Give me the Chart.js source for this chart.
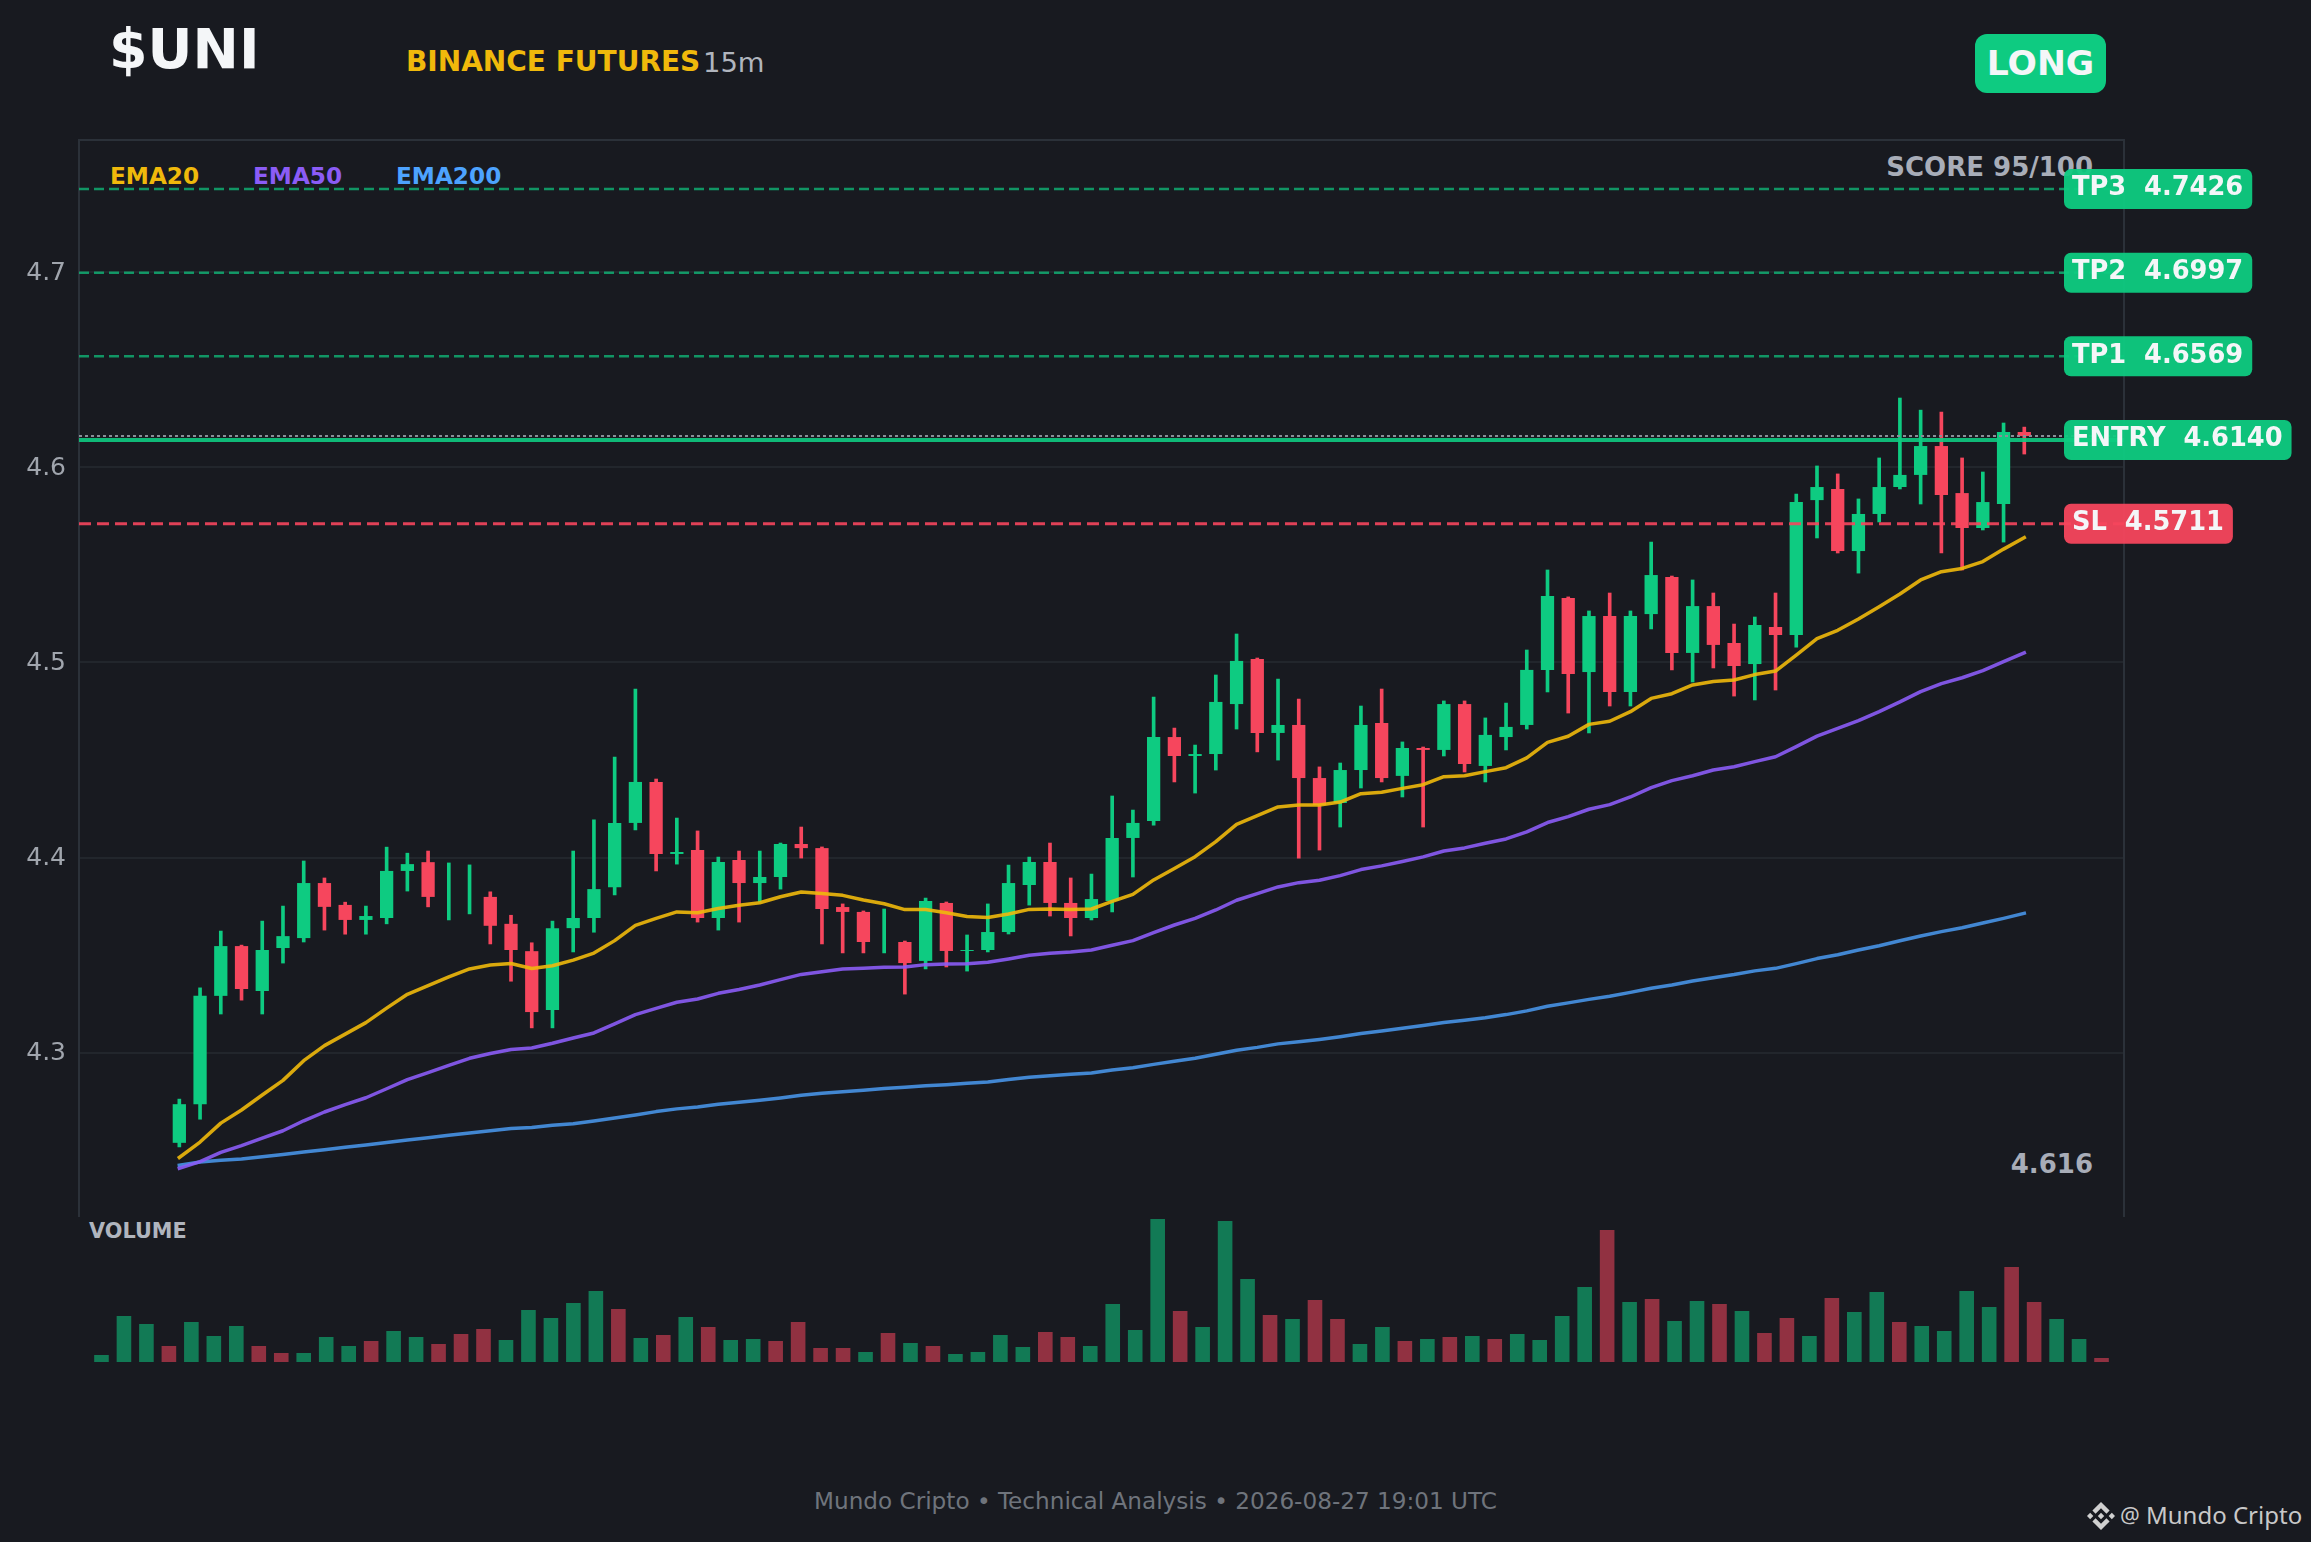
<!DOCTYPE html>
<html>
<head>
<meta charset="utf-8">
<title>$UNI</title>
<script src="https://cdn.jsdelivr.net/npm/chart.js@4"></script>
<style>
  html, body { margin: 0; padding: 0; background: #181A20; }
  body { position: relative; width: 2311px; height: 1542px; overflow: hidden; font-family: "DejaVu Sans", sans-serif; }
  canvas { position: absolute; left: 0; }
  #priceChart { top: 0; }
  #volumeChart { top: 1217px; }
  .txt { position: absolute; line-height: 1; white-space: nowrap; }
  #symbol { left: 109px; top: 22px; font-size: 55.4px; font-weight: bold; color: #F4F6F8; }
  #exchange { left: 406px; top: 48.4px; font-size: 28px; font-weight: bold; color: #F0B90B; }
  #interval { left: 703px; top: 48.6px; font-size: 27.4px; color: #B0B5BE; }
  #side { left: 1975px; top: 34px; width: 131px; height: 59px; line-height: 58px; border-radius: 12px; background: #0ECB81; color: #F4F6F8; font-size: 34.6px; font-weight: bold; text-align: center; }
  #score { right: 218px; top: 154px; font-size: 26px; font-weight: bold; color: #A8ADB8; }
  #lastPrice { right: 218px; top: 1151px; font-size: 26px; font-weight: bold; color: #A8ADB8; }
  .ema { top: 164px; font-size: 23.2px; font-weight: bold; }
  #volLabel { left: 89px; top: 1221px; font-size: 20.8px; font-weight: bold; color: #B0B5BE; }
  #footer { left: 0; width: 2311px; top: 1489.5px; text-align: center; font-size: 23.15px; color: #6F747C; }
  #brand { left: 2087px; top: 1502px; width: 28px; height: 28px; }
  #at { left: 2120px; top: 1503px; font-family: "Noto Sans"; font-size: 22px; color: #C8C8C8; }
  #handle { left: 2146px; top: 1502.7px; font-family: "Noto Sans"; font-size: 24px; color: #C8C8C8; }
</style>
</head>
<body>
<div class="txt" id="symbol">$UNI</div>
<div class="txt" id="exchange">BINANCE FUTURES</div>
<div class="txt" id="interval">15m</div>
<div class="txt" id="side">LONG</div>
<div class="txt" id="score">SCORE 95/100</div>
<div class="txt ema" style="left:110px;color:#F0B90B">EMA20</div>
<div class="txt ema" style="left:253px;color:#8B5CF6">EMA50</div>
<div class="txt ema" style="left:396px;color:#4DA3FF">EMA200</div>
<div class="txt" id="lastPrice"></div>
<div class="txt" id="volLabel">VOLUME</div>
<div class="txt" id="footer">Mundo Cripto • Technical Analysis • 2026-08-27 19:01 UTC</div>
<svg class="txt" id="brand" viewBox="0 0 126.61 126.61" fill="#D0D0D0">
  <path d="M38.73 53.2l24.59-24.58 24.6 24.6 14.3-14.31L63.32 0 24.43 38.9z"/>
  <path d="M0 63.31l14.3-14.31 14.31 14.31-14.31 14.3z"/>
  <path d="M38.73 73.41l24.59 24.59 24.6-24.6 14.31 14.29-.01.01-38.9 38.91-38.9-38.88-.02-.02z"/>
  <path d="M98 63.31l14.3-14.31 14.31 14.31-14.31 14.3z"/>
  <path d="M77.83 63.3L63.32 48.78 52.59 59.51l-1.24 1.23-2.54 2.54 14.51 14.5 14.51-14.47z"/>
</svg>
<div class="txt" id="at">@</div>
<div class="txt" id="handle">Mundo Cripto</div>
<canvas id="priceChart" width="2311" height="1542"></canvas>
<canvas id="volumeChart" width="2311" height="160"></canvas>
<script>
// 캔들 데이터
const opens = [
  4.2539,4.2737,4.3292,4.3547,4.3317,4.3537,4.3588,4.3870,4.3758,4.3681,
  4.3691,4.3932,4.3977,4.385,4.385,4.3799,4.3661,4.3521,4.3219,4.3639,
  4.3691,4.3849,4.4178,4.4388,4.4019,4.4039,4.3691,4.3988,4.3870,4.3901,
  4.4070,4.4049,4.3747,4.3722,4.36,4.3568,4.3471,4.3768,4.3522,4.3527,
  4.3619,4.3860,4.3978,4.3768,4.3691,4.3778,4.4101,4.4188,4.4618,4.4521,
  4.4531,4.4787,4.5018,4.4639,4.4680,4.4408,4.4280,4.4449,4.4690,4.4419,
  4.4562,4.4552,4.4787,4.4470,4.4618,4.4680,4.4962,4.5330,4.4951,4.5238,
  4.4849,4.5248,4.5438,4.5049,4.5289,4.5100,4.4992,4.5182,4.5141,4.5832,
  4.5889,4.5571,4.5761,4.5899,4.5961,4.6109,4.5868,4.5689,4.5812,4.6181
];
const highs = [
  4.2763,4.3333,4.3624,4.3552,4.3675,4.3752,4.3983,4.3896,4.3772,4.3752,
  4.4054,4.4023,4.4034,4.3973,4.3963,4.3825,4.3705,4.3564,4.3675,4.4034,
  4.4194,4.4516,4.4864,4.4403,4.4203,4.4137,4.4003,4.4034,4.4034,4.4075,
  4.4157,4.4055,4.3763,4.3727,4.3737,4.3573,4.3793,4.3773,4.3604,4.3763,
  4.3962,4.4003,4.4075,4.3896,4.3916,4.4316,4.4244,4.4823,4.4664,4.4577,
  4.4936,4.5146,4.5023,4.4915,4.4813,4.4465,4.4485,4.4777,4.4864,4.4593,
  4.4567,4.4803,4.4803,4.4716,4.4792,4.5064,4.5474,4.5336,4.5264,4.5356,
  4.5264,4.5617,4.5443,4.5423,4.5356,4.5197,4.5233,4.5356,4.5863,4.6007,
  4.5966,4.5838,4.6048,4.6355,4.6293,4.6283,4.6048,4.5976,4.6227,4.6206
];
const lows = [
  4.2518,4.2660,4.3199,4.3270,4.3199,4.3460,4.3568,4.3629,4.3608,4.3608,
  4.3661,4.3829,4.3748,4.3681,4.3712,4.3558,4.3367,4.3128,4.3128,4.3517,
  4.3618,4.3809,4.4142,4.3932,4.3967,4.3670,4.3629,4.3670,4.3773,4.3839,
  4.3998,4.3558,4.3512,4.3512,4.3512,4.3301,4.3430,4.3440,4.3419,4.3517,
  4.3609,4.3757,4.3701,4.3599,4.3681,4.3722,4.3901,4.4167,4.4388,4.4331,
  4.4449,4.4659,4.4542,4.4500,4.3998,4.4039,4.4157,4.4357,4.4388,4.4311,
  4.4157,4.4521,4.4439,4.4388,4.4552,4.4659,4.4849,4.4741,4.4639,4.4777,
  4.4777,4.5172,4.4962,4.4900,4.4972,4.4828,4.4808,4.4859,4.5079,4.5638,
  4.5561,4.5458,4.5720,4.5889,4.5812,4.5561,4.5474,4.5679,4.5617,4.6068
];
const closes = [
  4.2737,4.3292,4.3547,4.3327,4.3527,4.3598,4.3870,4.3748,4.3681,4.3701,
  4.3932,4.3967,4.3799,4.385,4.385,4.3651,4.3527,4.3209,4.3639,4.3691,
  4.3839,4.4178,4.4388,4.4019,4.4029,4.3691,4.3978,4.3870,4.3901,4.4070,
  4.4049,4.3737,4.3722,4.3568,4.36,4.3460,4.3778,4.3522,4.3527,4.3619,
  4.3870,4.3978,4.3768,4.3691,4.3788,4.4101,4.4178,4.4618,4.4521,4.4531,
  4.4798,4.5008,4.4639,4.4680,4.4408,4.4270,4.4449,4.4680,4.4408,4.4562,
  4.4552,4.4787,4.4480,4.4629,4.4670,4.4962,4.5341,4.4941,4.5238,4.4849,
  4.5238,4.5448,4.5049,4.5289,4.5090,4.4982,4.5192,4.5141,4.5822,4.5899,
  4.5571,4.5761,4.5899,4.5961,4.6109,4.5858,4.5689,4.5822,4.6181,4.6160
];
const volumes = [
  21,138,114,48,120,78,108,48,27,27,
  75,48,63,93,75,54,84,99,66,156,
  132,177,213,159,72,81,135,105,66,69,
  63,120,42,42,30,87,57,48,24,30,
  81,45,90,75,48,174,96,429,153,105,
  423,249,141,129,186,129,54,105,63,69,
  75,78,69,84,66,138,225,396,180,189,
  123,183,174,153,87,132,78,192,150,210,
  120,108,93,213,165,285,180,129,69,12
];

// EMA
const ema20 = [
  4.2464,4.2543,4.2640,4.2707,4.2784,4.2859,4.2960,4.3037,4.3096,4.3155,
  4.3229,4.3300,4.3345,4.3389,4.3430,4.3450,4.3458,4.3432,4.3446,4.3475,
  4.3511,4.3575,4.3653,4.3689,4.3722,4.3718,4.3740,4.3756,4.3769,4.3800,
  4.3824,4.3816,4.3807,4.3783,4.3764,4.3734,4.3735,4.3718,4.3699,4.3693,
  4.3711,4.3735,4.3737,4.3734,4.3737,4.3776,4.3812,4.3886,4.3945,4.4005,
  4.4082,4.4171,4.4215,4.4260,4.4270,4.4270,4.4285,4.4328,4.4335,4.4355,
  4.4374,4.4415,4.4420,4.4441,4.4461,4.4511,4.4591,4.4622,4.4683,4.4699,
  4.4748,4.4816,4.4840,4.4885,4.4903,4.4910,4.4938,4.4956,4.5038,4.5122,
  4.5165,4.5223,4.5286,4.5351,4.5423,4.5465,4.5482,4.5517,4.5581,4.5640
];
const ema50 = [
  4.2409,4.2443,4.2490,4.2525,4.2563,4.2601,4.2652,4.2697,4.2735,4.2770,
  4.2816,4.2863,4.2899,4.2936,4.2972,4.2997,4.3017,4.3025,4.3049,4.3076,
  4.3102,4.3148,4.3196,4.3228,4.3259,4.3276,4.3305,4.3325,4.3348,4.3375,
  4.3402,4.3416,4.3430,4.3433,4.3438,4.3440,4.3452,4.3455,4.3457,4.3464,
  4.3481,4.3500,4.3510,4.3517,4.3527,4.3551,4.3575,4.3616,4.3655,4.3689,
  4.3732,4.3782,4.3816,4.3850,4.3872,4.3884,4.3908,4.3939,4.3958,4.3980,
  4.4004,4.4034,4.4050,4.4074,4.4096,4.4132,4.4180,4.4210,4.4248,4.4272,
  4.4311,4.4359,4.4395,4.4420,4.4449,4.4466,4.4492,4.4517,4.4569,4.4623,
  4.4662,4.4702,4.4748,4.4798,4.4851,4.4892,4.4922,4.4958,4.5004,4.5050
];
const ema200 = [
  4.2424,4.2441,4.2450,4.2456,4.2468,4.2479,4.2492,4.2504,4.2516,4.2528,
  4.2541,4.2553,4.2565,4.2578,4.2589,4.2601,4.2612,4.2618,4.2629,4.2637,
  4.2651,4.2666,4.2682,4.2699,4.2713,4.2723,4.2737,4.2747,4.2757,4.2769,
  4.2783,4.2793,4.2801,4.2808,4.2817,4.2824,4.2831,4.2837,4.2844,4.2851,
  4.2863,4.2875,4.2883,4.2890,4.2897,4.2912,4.2924,4.2941,4.2957,4.2972,
  4.2993,4.3013,4.3028,4.3046,4.3057,4.3069,4.3083,4.3099,4.3112,4.3126,
  4.3140,4.3155,4.3167,4.3180,4.3196,4.3215,4.3239,4.3256,4.3274,4.3290,
  4.3310,4.3331,4.3348,4.3368,4.3385,4.3401,4.3420,4.3433,4.3457,4.3483,
  4.3503,4.3527,4.3549,4.3574,4.3599,4.3621,4.3641,4.3665,4.3689,4.3715
];

// 목표가 / 진입가 / 손절가
const levelNames = ['TP3', 'TP2', 'TP1', 'ENTRY', 'SL'];
const levelValues = [4.7426, 4.6997, 4.6569, 4.6140, 4.5711];
const priceTicks = [4.3, 4.4, 4.5, 4.6, 4.7];
const lastClose = closes[closes.length - 1];

const GREEN = '#0ECB81';
const RED = '#F6465D';
const GRID = '#22262C';
const FRAME = '#2B3139';
const X_MIN = -4.84, X_MAX = 93.81;
const Y_MIN = 4.2159, Y_MAX = 4.7677;

Chart.defaults.font.family = '"DejaVu Sans", sans-serif';
Chart.defaults.devicePixelRatio = 1;
document.getElementById('lastPrice').textContent = lastClose.toFixed(3);

const isUp = i => closes[i] >= opens[i];
const candleColors = closes.map((c, i) => isUp(i) ? GREEN : RED);
const toPoints = arr => arr.map((v, i) => ({ x: i, y: v }));

function levelLine(value, color, width, dash) {
  return {
    type: 'line',
    data: [{ x: X_MIN, y: value }, { x: X_MAX, y: value }],
    borderColor: color,
    borderWidth: width,
    borderDash: dash,
    pointRadius: 0,
    order: 1
  };
}

function emaLine(values, color) {
  return {
    type: 'line',
    data: toPoints(values),
    borderColor: color,
    borderWidth: 3.5,
    borderCapStyle: 'square',
    borderJoinStyle: 'round',
    pointRadius: 0,
    tension: 0,
    order: 2
  };
}

// 축 프레임 (아래쪽 없음)
const framePlugin = {
  id: 'frame',
  beforeDatasetsDraw(chart) {
    const { left, right, top, bottom } = chart.chartArea;
    const ctx = chart.ctx;
    ctx.save();
    ctx.strokeStyle = FRAME;
    ctx.lineWidth = 2;
    ctx.beginPath();
    ctx.moveTo(left, bottom);
    ctx.lineTo(left, top);
    ctx.lineTo(right, top);
    ctx.lineTo(right, bottom);
    ctx.stroke();
    ctx.restore();
  }
};

// 오른쪽 가격 배지
const badgePlugin = {
  id: 'badges',
  afterDatasetsDraw(chart) {
    const ctx = chart.ctx;
    const y = chart.scales.y;
    ctx.save();
    ctx.font = 'bold 25.7px "DejaVu Sans"';
    levelNames.forEach((name, i) => {
      const label = name + '  ' + levelValues[i].toFixed(4);
      const cy = y.getPixelForValue(levelValues[i]);
      const w = ctx.measureText(label).width + 17;
      ctx.fillStyle = name === 'SL' ? 'rgba(246,70,93,0.95)' : 'rgba(14,203,129,0.95)';
      ctx.beginPath();
      ctx.roundRect(2064, cy - 20, w, 40, 7);
      ctx.fill();
      ctx.fillStyle = '#F4F6F8';
      ctx.textBaseline = 'alphabetic';
      ctx.fillText(label, 2072, cy + 6.5);
    });
    ctx.restore();
  }
};

new Chart(document.getElementById('priceChart'), {
  data: {
    datasets: [
      levelLine(levelValues[0], 'rgba(14,203,129,0.7)', 2.5, [10, 5]),
      levelLine(levelValues[1], 'rgba(14,203,129,0.7)', 2.5, [10, 5]),
      levelLine(levelValues[2], 'rgba(14,203,129,0.7)', 2.5, [10, 5]),
      levelLine(lastClose, '#8A8F98', 2, [3, 3]),
      levelLine(levelValues[3], 'rgba(14,203,129,0.9)', 4, []),
      levelLine(levelValues[4], 'rgba(246,70,93,0.9)', 3, [12, 6]),
      emaLine(ema20, 'rgba(240,185,11,0.9)'),
      emaLine(ema50, 'rgba(139,92,246,0.9)'),
      emaLine(ema200, 'rgba(77,163,255,0.8)'),
      {
        // 몸통
        type: 'bar',
        data: opens.map((o, i) => ({ x: i, y: [o, closes[i]] })),
        backgroundColor: candleColors,
        grouped: false,
        barPercentage: 0.64,
        categoryPercentage: 1,
        order: 3
      },
      {
        // 꼬리
        type: 'bar',
        data: highs.map((h, i) => ({ x: i, y: [lows[i], h] })),
        backgroundColor: candleColors,
        grouped: false,
        barThickness: 3,
        order: 4
      }
    ]
  },
  options: {
    responsive: false,
    animation: false,
    layout: { padding: { left: 0, right: 187, top: 140, bottom: 325 } },
    plugins: { legend: { display: false }, tooltip: { enabled: false } },
    scales: {
      x: { type: 'linear', min: X_MIN, max: X_MAX, display: false, offset: false },
      y: {
        min: Y_MIN,
        max: Y_MAX,
        afterFit: s => { s.width = 79; },
        afterBuildTicks: s => { s.ticks = priceTicks.map(v => ({ value: v })); },
        grid: { color: GRID, lineWidth: 2, drawTicks: false },
        border: { display: false },
        ticks: {
          color: '#A0A5AD',
          font: { size: 25 },
          padding: 13,
          labelOffset: 1,
          callback: v => v.toFixed(1)
        }
      }
    }
  },
  plugins: [framePlugin, badgePlugin]
});

new Chart(document.getElementById('volumeChart'), {
  type: 'bar',
  data: {
    datasets: [{
      data: toPoints(volumes),
      backgroundColor: closes.map((c, i) => isUp(i) ? 'rgba(14,203,129,0.55)' : 'rgba(246,70,93,0.55)'),
      barPercentage: 0.65,
      categoryPercentage: 1
    }]
  },
  options: {
    responsive: false,
    animation: false,
    layout: { padding: { left: 79, right: 187, top: 0, bottom: 15 } },
    plugins: { legend: { display: false }, tooltip: { enabled: false } },
    scales: {
      x: { type: 'linear', min: -1, max: 90, display: false, offset: false },
      y: { min: 0, max: 435, display: false }
    }
  }
});
</script>
</body>
</html>
